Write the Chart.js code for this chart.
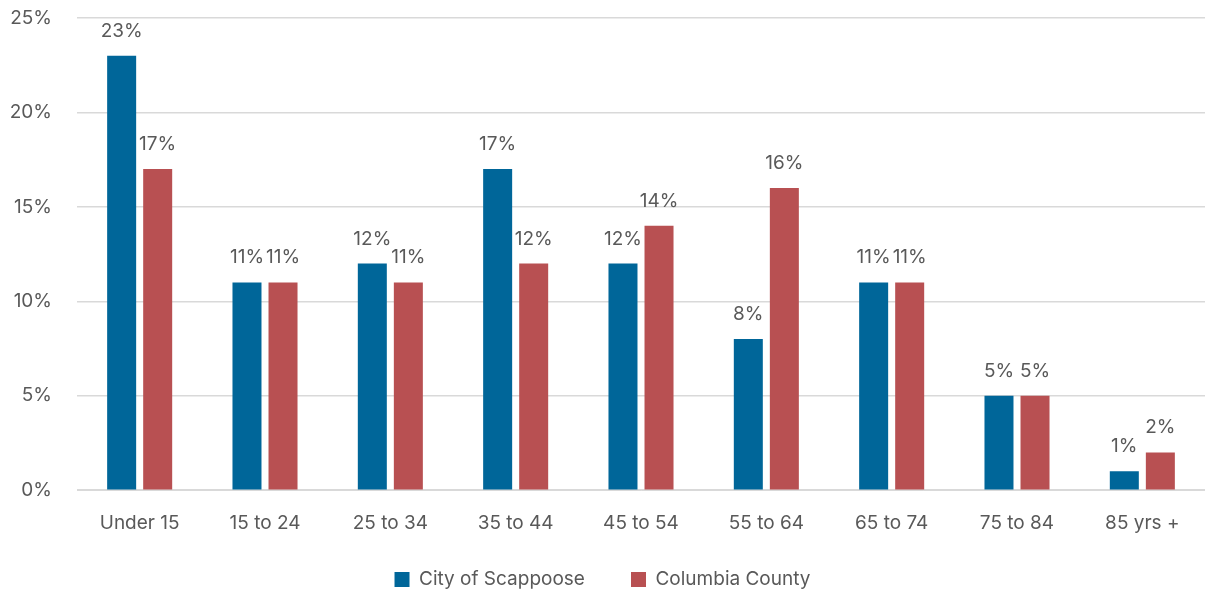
<!DOCTYPE html>
<html>
<head>
<meta charset="utf-8">
<script src="https://cdn.jsdelivr.net/npm/chart.js@4/dist/chart.umd.min.js"></script>
<style>
  html, body { margin: 0; padding: 0; background: #fff; }
  #wrap { width: 1205px; height: 594px; position: relative; }
</style>
</head>
<body>
<div id="wrap"><canvas id="ageChart"></canvas></div>
<script>
const categories = ["Under 15", "15 to 24", "25 to 34", "35 to 44", "45 to 54", "55 to 64", "65 to 74", "75 to 84", "85 yrs +"];
const scappoose = [23, 11, 12, 17, 12, 8, 11, 5, 1];
const columbia = [17, 11, 11, 12, 14, 16, 11, 5, 2];
const yTicks = [0, 5, 10, 15, 20, 25];

const FONT = "Inter, 'Noto Sans', sans-serif";
const TEXT = "#595959";

// draws the % value above each bar
const barLabels = {
  id: "barLabels",
  afterDatasetsDraw(chart) {
    const ctx = chart.ctx;
    ctx.save();
    ctx.font = "19px " + FONT;
    ctx.fillStyle = TEXT;
    ctx.textAlign = "center";
    ctx.textBaseline = "alphabetic";
    chart.data.datasets.forEach((ds, i) => {
      chart.getDatasetMeta(i).data.forEach((bar, j) => {
        ctx.fillText(ds.data[j] + "%", bar.x, bar.y - 19);
      });
    });
    ctx.restore();
  }
};

new Chart(document.getElementById("ageChart"), {
  type: "bar",
  data: {
    labels: categories,
    datasets: [
      {
        label: "City of Scappoose",
        data: scappoose,
        backgroundColor: "#006699",
        categoryPercentage: 0.575,
        barPercentage: 0.805
      },
      {
        label: "Columbia County",
        data: columbia,
        backgroundColor: "#b85052",
        categoryPercentage: 0.575,
        barPercentage: 0.805
      }
    ]
  },
  options: {
    responsive: true,
    maintainAspectRatio: false,
    animation: false,
    layout: { padding: { top: 0, right: 0, left: 0, bottom: -5 } },
    plugins: {
      legend: {
        position: "bottom",
        labels: {
          color: TEXT,
          font: { family: FONT, size: 19 },
          boxWidth: 15,
          boxHeight: 15,
          padding: 14,
          // extra room between the two legend entries
          generateLabels: (chart) => {
            const items = Chart.defaults.plugins.legend.labels.generateLabels(chart);
            items[0].text += "      ";
            return items;
          }
        }
      },
      tooltip: { enabled: false }
    },
    scales: {
      x: {
        grid: { display: false },
        border: { color: "#d9d9d9", width: 1 },
        ticks: { color: TEXT, font: { family: FONT, size: 19 }, padding: 14 },
        afterFit: (scale) => { scale.height += 7; }
      },
      y: {
        min: 0,
        max: 25,
        afterBuildTicks: (scale) => { scale.ticks = yTicks.map((v) => ({ value: v })); },
        afterFit: (scale) => {
          scale.width = 77;
          scale.paddingTop = 18;
          scale.paddingBottom = 0;
        },
        border: { display: false },
        grid: { color: "#d9d9d9", lineWidth: 1.5, drawTicks: false },
        ticks: {
          color: TEXT,
          font: { family: FONT, size: 19 },
          padding: 25,
          callback: (v) => v + "%"
        }
      }
    }
  },
  plugins: [barLabels]
});
</script>
</body>
</html>
